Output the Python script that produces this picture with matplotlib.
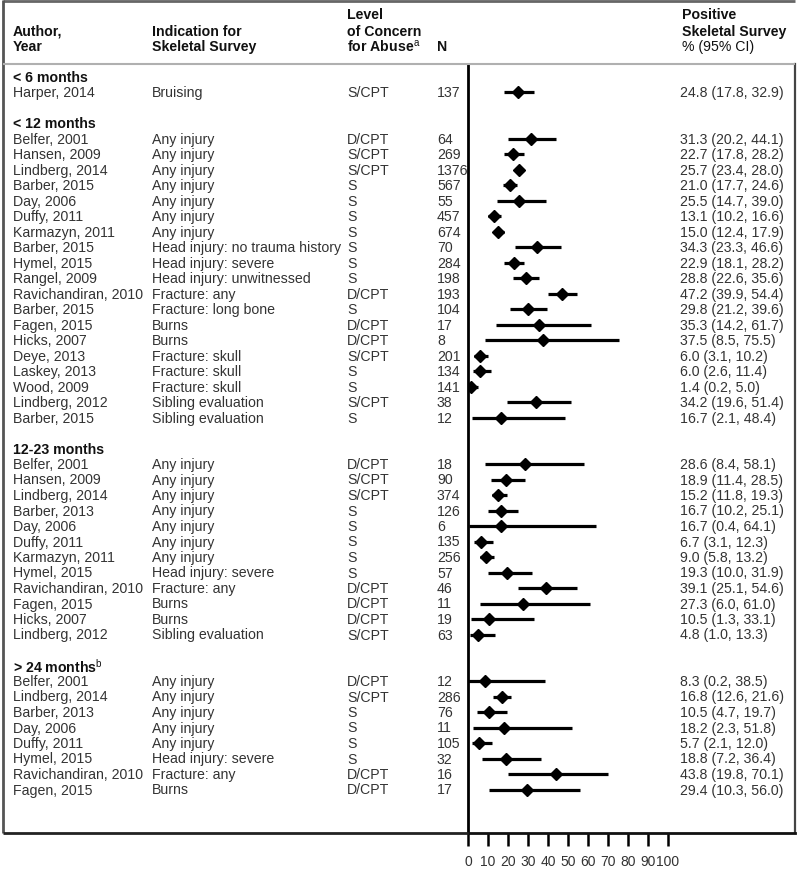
import matplotlib
matplotlib.use("Agg")
import matplotlib.pyplot as plt
import matplotlib.transforms as mtransforms
from matplotlib.lines import Line2D

plt.rcParams['font.family'] = ['Liberation Sans', 'DejaVu Sans']
plt.rcParams['mathtext.fontset'] = 'custom'
plt.rcParams['mathtext.rm'] = 'Liberation Sans'

# age groups and how many studies are in each
groups = ['< 6 months', '< 12 months', '12-23 months', r'> 24 months$^{\rm b}$']
group_sizes = [1, 19, 12, 8]

authors = [
    'Harper, 2014',
    'Belfer, 2001', 'Hansen, 2009', 'Lindberg, 2014', 'Barber, 2015', 'Day, 2006',
    'Duffy, 2011', 'Karmazyn, 2011', 'Barber, 2015', 'Hymel, 2015', 'Rangel, 2009',
    'Ravichandiran, 2010', 'Barber, 2015', 'Fagen, 2015', 'Hicks, 2007', 'Deye, 2013',
    'Laskey, 2013', 'Wood, 2009', 'Lindberg, 2012', 'Barber, 2015',
    'Belfer, 2001', 'Hansen, 2009', 'Lindberg, 2014', 'Barber, 2013', 'Day, 2006',
    'Duffy, 2011', 'Karmazyn, 2011', 'Hymel, 2015', 'Ravichandiran, 2010',
    'Fagen, 2015', 'Hicks, 2007', 'Lindberg, 2012',
    'Belfer, 2001', 'Lindberg, 2014', 'Barber, 2013', 'Day, 2006', 'Duffy, 2011',
    'Hymel, 2015', 'Ravichandiran, 2010', 'Fagen, 2015',
]
indications = [
    'Bruising',
    'Any injury', 'Any injury', 'Any injury', 'Any injury', 'Any injury',
    'Any injury', 'Any injury', 'Head injury: no trauma history', 'Head injury: severe',
    'Head injury: unwitnessed', 'Fracture: any', 'Fracture: long bone', 'Burns', 'Burns',
    'Fracture: skull', 'Fracture: skull', 'Fracture: skull', 'Sibling evaluation',
    'Sibling evaluation',
    'Any injury', 'Any injury', 'Any injury', 'Any injury', 'Any injury',
    'Any injury', 'Any injury', 'Head injury: severe', 'Fracture: any',
    'Burns', 'Burns', 'Sibling evaluation',
    'Any injury', 'Any injury', 'Any injury', 'Any injury', 'Any injury',
    'Head injury: severe', 'Fracture: any', 'Burns',
]
levels = [
    'S/CPT',
    'D/CPT', 'S/CPT', 'S/CPT', 'S', 'S', 'S', 'S', 'S', 'S', 'S',
    'D/CPT', 'S', 'D/CPT', 'D/CPT', 'S/CPT', 'S', 'S', 'S/CPT', 'S',
    'D/CPT', 'S/CPT', 'S/CPT', 'S', 'S', 'S', 'S', 'S', 'D/CPT',
    'D/CPT', 'D/CPT', 'S/CPT',
    'D/CPT', 'S/CPT', 'S', 'S', 'S', 'S', 'D/CPT', 'D/CPT',
]
n_values = [
    137,
    64, 269, 1376, 567, 55, 457, 674, 70, 284, 198, 193, 104, 17, 8, 201, 134, 141, 38, 12,
    18, 90, 374, 126, 6, 135, 256, 57, 46, 11, 19, 63,
    12, 286, 76, 11, 105, 32, 16, 17,
]
pct = [
    24.8,
    31.3, 22.7, 25.7, 21.0, 25.5, 13.1, 15.0, 34.3, 22.9, 28.8, 47.2, 29.8, 35.3, 37.5,
    6.0, 6.0, 1.4, 34.2, 16.7,
    28.6, 18.9, 15.2, 16.7, 16.7, 6.7, 9.0, 19.3, 39.1, 27.3, 10.5, 4.8,
    8.3, 16.8, 10.5, 18.2, 5.7, 18.8, 43.8, 29.4,
]
ci_low = [
    17.8,
    20.2, 17.8, 23.4, 17.7, 14.7, 10.2, 12.4, 23.3, 18.1, 22.6, 39.9, 21.2, 14.2, 8.5,
    3.1, 2.6, 0.2, 19.6, 2.1,
    8.4, 11.4, 11.8, 10.2, 0.4, 3.1, 5.8, 10.0, 25.1, 6.0, 1.3, 1.0,
    0.2, 12.6, 4.7, 2.3, 2.1, 7.2, 19.8, 10.3,
]
ci_high = [
    32.9,
    44.1, 28.2, 28.0, 24.6, 39.0, 16.6, 17.9, 46.6, 28.2, 35.6, 54.4, 39.6, 61.7, 75.5,
    10.2, 11.4, 5.0, 51.4, 48.4,
    58.1, 28.5, 19.3, 25.1, 64.1, 12.3, 13.2, 31.9, 54.6, 61.0, 33.1, 13.3,
    38.5, 21.6, 19.7, 51.8, 12.0, 36.4, 70.1, 56.0,
]
x_ticks = [0, 10, 20, 30, 40, 50, 60, 70, 80, 90, 100]

W, H = 800, 870
fig = plt.figure(figsize=(W / 100, H / 100), dpi=100)

# layout in pixels
top_line, bottom_line = 65, 834
left_edge, right_edge = 3, 795
zero_x = 468
row0, step = 77.5, 15.5

ax = fig.add_axes([zero_x / W, 1 - bottom_line / H,
                   (right_edge - zero_x) / W, (bottom_line - top_line) / H])
ax.set_xlim(0, (right_edge - zero_x) / 2)
ax.set_ylim((bottom_line - row0) / step, (top_line - row0) / step)

# row index for group headers and studies
head_rows, study_rows = [], []
r = 0
for g, size in zip(groups, group_sizes):
    head_rows.append(r)
    study_rows.extend(range(r + 1, r + 1 + size))
    r += size + 2

txt_col = '#333333'
fs = 10.2
trans = mtransforms.blended_transform_factory(fig.transFigure, ax.transData)

for g, hr in zip(groups, head_rows):
    ax.text(13 / W, hr, g, transform=trans, fontsize=fs, fontweight='bold',
            color='#111111', va='center', ha='left', clip_on=False)

for i, yr in enumerate(study_rows):
    ax.text(13 / W, yr, authors[i], transform=trans, fontsize=fs, color=txt_col,
            va='center', clip_on=False)
    ax.text(152 / W, yr, indications[i], transform=trans, fontsize=fs, color=txt_col,
            va='center', clip_on=False)
    ax.text(347 / W, yr, levels[i], transform=trans, fontsize=fs, color=txt_col,
            va='center', clip_on=False)
    ax.text(437 / W, yr, str(n_values[i]), transform=trans, fontsize=fs, color=txt_col,
            va='center', clip_on=False)
    ax.text(680 / W, yr, f'{pct[i]:.1f} ({ci_low[i]:.1f}, {ci_high[i]:.1f})',
            transform=trans, fontsize=fs, color=txt_col, va='center', clip_on=False)
    ax.plot([ci_low[i], ci_high[i]], [yr, yr], color='black', lw=2.3,
            solid_capstyle='butt')
    ax.plot(pct[i], yr, marker='D', color='black', markersize=6)

# column headers
def header(x, y, s, weight='bold'):
    fig.text(x / W, 1 - y / H, s, fontsize=fs, fontweight=weight, color='#111111',
             va='center', ha='left')

header(13, 32, 'Author,')
header(13, 47, 'Year')
header(152, 32, 'Indication for')
header(152, 47, 'Skeletal Survey')
header(347, 15, 'Level')
header(347, 32, 'of Concern')
header(347, 47, r'for Abuse$^{\rm a}$')
header(437, 47, 'N')
header(682, 15, 'Positive')
header(682, 32, 'Skeletal Survey')
header(682, 47, '% (95% CI)', weight='normal')

# axis styling
ax.spines['top'].set_visible(False)
ax.spines['left'].set_linewidth(2)
ax.spines['left'].set_color('black')
ax.spines['bottom'].set_linewidth(2)
ax.spines['bottom'].set_color('#111111')
ax.spines['right'].set_linewidth(1.6)
ax.spines['right'].set_color('#444444')
ax.set_yticks([])
ax.set_xticks(x_ticks)
ax.set_xticklabels([str(t) for t in x_ticks])
ax.tick_params(axis='x', direction='out', length=9, width=1.8, pad=6,
               labelsize=10, labelcolor='#333333')

# outer frame and header separator
def fline(xs, ys, color, lw):
    fig.add_artist(Line2D([x / W for x in xs], [1 - y / H for y in ys],
                          color=color, lw=lw, solid_capstyle='butt'))

fline([left_edge, right_edge], [1.5, 1.5], '#666666', 2)
fline([left_edge, left_edge], [1, bottom_line], '#555555', 2)
fline([left_edge, zero_x], [bottom_line, bottom_line], '#222222', 2)
fline([left_edge, right_edge], [top_line, top_line], '#b0b0b0', 1.5)

fig.savefig('out.png', dpi=100)
